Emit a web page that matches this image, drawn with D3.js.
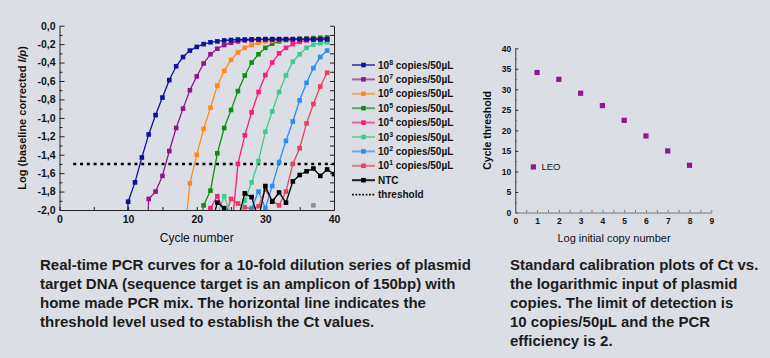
<!DOCTYPE html>
<html>
<head>
<meta charset="utf-8">
<script src="https://cdn.jsdelivr.net/npm/d3@7"></script>
<style>
  body { margin: 0; background: #dbdfe5; }
  svg { display: block; font-family: Arial, "Liberation Sans", sans-serif; }
</style>
</head>
<body>
<div id="chart"></div>
<script>
// ---- data: amplification curves (log baseline corrected I/p per cycle) ----
const exponents = ["8", "7", "6", "5", "4", "3", "2", "1"];
const curveColors = ["#10109e", "#8a1a8a", "#ff8a1c", "#148c14", "#ff1a82", "#3dcc8c", "#2a8cf5", "#e8405a"];
const curveStart = [9, 12, 18, 20, 21, 22, 26, 24];   // cycle of first value in each list

const copies1e8 = [-3.5, -1.91, -1.70, -1.43, -1.18, -0.97, -0.78, -0.59, -0.44, -0.34, -0.27, -0.23, -0.20, -0.18, -0.17, -0.16,
  -0.155, -0.15, -0.15, -0.148, -0.146, -0.145, -0.145, -0.145, -0.145, -0.145, -0.145, -0.145, -0.145, -0.145, -0.145];
const copies1e7 = [-3.5, -1.88, -1.80, -1.63, -1.36, -1.11, -0.90, -0.70, -0.55, -0.41, -0.31, -0.25, -0.21, -0.185, -0.17, -0.16,
  -0.155, -0.152, -0.15, -0.15, -0.15, -0.15, -0.15, -0.15, -0.15, -0.15, -0.15, -0.15];
const copies1e6 = [-2.45, -1.71, -1.40, -1.12, -0.89, -0.65, -0.49, -0.37, -0.29, -0.24, -0.21, -0.185, -0.17, -0.162, -0.156,
  -0.152, -0.148, -0.146, -0.145, -0.145, -0.145, -0.145];
const copies1e5 = [-2.4, -1.95, -1.79, -1.385, -1.11, -0.915, -0.71, -0.54, -0.40, -0.31, -0.24, -0.195, -0.17, -0.155, -0.148,
  -0.142, -0.138, -0.134, -0.13, -0.127];
const copies1e4 = [-2.3, -1.98, -1.85, -2.02, -2.3, -1.50, -1.19, -0.94, -0.72, -0.535, -0.40, -0.30, -0.24, -0.20, -0.175,
  -0.16, -0.152, -0.148, -0.145];
const copies1e3 = [-2.3, -2.05, -1.85, -2.05, -2.1, -1.90, -1.70, -1.47, -1.15, -0.93, -0.72, -0.54, -0.39, -0.31, -0.24,
  -0.205, -0.19, -0.18];
const copies1e2 = [-2.3, -2.1, -1.98, -1.80, -1.98, -1.74, -1.48, -1.25, -1.04, -0.81, -0.62, -0.46, -0.34, -0.27];
const copies1e1 = [-2.1, -1.88, -1.93, -1.97, -1.99, -1.96, -1.78, -1.90, -1.95, -1.80, -1.50, -1.33, -1.06, -0.85, -0.66, -0.51];
const curveValues = [copies1e8, copies1e7, copies1e6, copies1e5, copies1e4, copies1e3, copies1e2, copies1e1];

const ntcStart = 22;
const ntcValues = [-2.2, -1.92, -1.98, -2.2, -2.1, -1.82, -1.86, -2.1, -1.74, -1.91, -1.81, -1.92, -1.69, -1.62, -1.58, -1.55,
  -1.63, -1.56, -1.61];
const strayCycle = [37];
const strayValue = [-1.95];
const threshold = -1.5;
const thresholdFrom = 2;

// ---- data: calibration plot ----
const logCopies = [1, 2, 3, 4, 5, 6, 7, 8];
const cycleThreshold = [34.1, 32.45, 29.05, 26.05, 22.45, 18.65, 15.0, 11.5];

const captionLeft = [
  "Real-time PCR curves for a 10-fold dilution series of plasmid",
  "target DNA (sequence target is an amplicon of 150bp) with",
  "home made PCR mix. The horizontal line indicates the",
  "threshold level used to establish the Ct values."
];
const captionRight = [
  "Standard calibration plots of Ct vs.",
  "the logarithmic input of plasmid",
  "copies. The limit of detection is",
  "10 copies/50\u00b5L and the PCR",
  "efficiency is 2."
];

const svg = d3.select("#chart").append("svg")
  .attr("width", 770)
  .attr("height", 358);

// ================= left chart =================
const x = d3.scaleLinear().domain([0, 40]).range([59.5, 334]);
const y = d3.scaleLinear().domain([-2, 0]).range([210, 25.7]);
const comma = d => d3.format(".1f")(d).replace(".", ",").replace("\u2212", "-");

svg.append("defs").append("clipPath").attr("id", "plotclip")
  .append("rect").attr("x", x(0)).attr("y", 0).attr("width", x(40) - x(0)).attr("height", y(-2));

// left axis, ticks inside
svg.append("g")
  .attr("transform", `translate(${x(0)},0)`)
  .call(d3.axisLeft(y).tickValues(d3.range(-1.9, 0, 0.2)).tickSize(-3).tickSizeOuter(0).tickFormat(""))
  .call(g => g.select(".domain").remove());
const yAx = svg.append("g")
  .attr("transform", `translate(${x(0)},0)`)
  .call(d3.axisLeft(y).tickValues(d3.range(-2, 0.01, 0.2)).tickSize(-5).tickSizeOuter(0).tickPadding(4).tickFormat(comma));
yAx.selectAll("text").style("font-size", "10.5px").style("font-weight", "bold").attr("fill", "#111");

// right axis, ticks pointing left
svg.append("g")
  .attr("transform", `translate(${x(40)},0)`)
  .call(d3.axisRight(y).tickValues(d3.range(-2, 0.01, 0.1)).tickSize(-4).tickSizeOuter(0).tickFormat(""));

// bottom axis
const xAx = svg.append("g")
  .attr("transform", `translate(0,${y(-2)})`)
  .call(d3.axisBottom(x).tickValues(d3.range(0, 41, 5)).tickSize(-3).tickSizeOuter(0).tickPadding(6)
    .tickFormat(d => d % 10 === 0 ? d : ""));
xAx.selectAll("text").style("font-size", "10.5px").style("font-weight", "bold").attr("fill", "#111");
svg.selectAll(".domain, .tick line").attr("stroke", "#222");

// threshold
svg.append("line")
  .attr("x1", x(thresholdFrom)).attr("x2", x(40))
  .attr("y1", y(threshold)).attr("y2", y(threshold))
  .attr("stroke", "#000").attr("stroke-width", 2.4).attr("stroke-dasharray", "3,3.8");

const plot = svg.append("g").attr("clip-path", "url(#plotclip)");
const line = d3.line().x(d => x(d[0])).y(d => y(d[1]));
const ms = 4.6;

function drawCurve(points, color) {
  plot.append("path")
    .attr("d", line(points))
    .attr("fill", "none")
    .attr("stroke", color)
    .attr("stroke-width", 1.3);
  plot.selectAll(null)
    .data(points)
    .join("rect")
      .attr("x", d => x(d[0]) - ms / 2)
      .attr("y", d => y(d[1]) - ms / 2)
      .attr("width", ms)
      .attr("height", ms)
      .attr("fill", color);
}

// draw low-copy curves first so high-copy curves sit on top
for (let i = curveValues.length - 1; i >= 0; i--) {
  drawCurve(curveValues[i].map((v, k) => [curveStart[i] + k, v]), curveColors[i]);
}
drawCurve(ntcValues.map((v, k) => [ntcStart + k, v]), "#000");
plot.selectAll(null)
  .data(strayCycle)
  .join("rect")
    .attr("x", (d) => x(d) - ms / 2)
    .attr("y", (d, i) => y(strayValue[i]) - ms / 2)
    .attr("width", ms).attr("height", ms)
    .attr("fill", "#8f8f8f");

// axis titles
svg.append("text")
  .attr("transform", `translate(25.5,${(y(0) + y(-2)) / 2}) rotate(-90)`)
  .attr("text-anchor", "middle")
  .style("font-size", "11px").style("font-weight", "bold").attr("fill", "#111")
  .text("Log (baseline corrected ")
  .append("tspan").style("font-style", "italic").text("I/p")
  .select(function () { return this.parentNode; })
  .append("tspan").text(")");

svg.append("text")
  .attr("x", (x(0) + x(40)) / 2).attr("y", 242)
  .attr("text-anchor", "middle")
  .style("font-size", "12px").attr("fill", "#111")
  .text("Cycle number");

// legend
const legendY = d3.range(10).map(i => 65 + i * 14.4);
const legend = svg.append("g");
exponents.forEach((e, i) => {
  const g = legend.append("g").attr("transform", `translate(0,${legendY[i]})`);
  g.append("line").attr("x1", 352).attr("x2", 375).attr("stroke", curveColors[i]).attr("stroke-width", 2).attr("opacity", 0.65);
  g.append("rect").attr("x", 363.5 - 2.3).attr("y", -2.3).attr("width", 4.6).attr("height", 4.6).attr("fill", curveColors[i]);
  const t = g.append("text").attr("x", 378).attr("y", 3.6)
    .style("font-size", "10px").style("font-weight", "bold").attr("fill", "#111");
  t.append("tspan").text("10");
  t.append("tspan").attr("dy", -4).style("font-size", "7px").text(e);
  t.append("tspan").attr("dy", 4).text(" copies/50\u00b5L");
});
{
  const g = legend.append("g").attr("transform", `translate(0,${legendY[8]})`);
  g.append("line").attr("x1", 352).attr("x2", 375).attr("stroke", "#222").attr("stroke-width", 2);
  g.append("rect").attr("x", 363.5 - 2.3).attr("y", -2.3).attr("width", 4.6).attr("height", 4.6).attr("fill", "#000");
  g.append("text").attr("x", 378).attr("y", 3.6)
    .style("font-size", "10px").style("font-weight", "bold").attr("fill", "#111").text("NTC");
}
{
  const g = legend.append("g").attr("transform", `translate(0,${legendY[9]})`);
  g.append("line").attr("x1", 352).attr("x2", 375).attr("stroke", "#000").attr("stroke-width", 1.8).attr("stroke-dasharray", "1.8,1.6");
  g.append("text").attr("x", 378).attr("y", 3.6)
    .style("font-size", "10px").style("font-weight", "bold").attr("fill", "#111").text("threshold");
}

// ================= right chart =================
const x2 = d3.scaleLinear().domain([0, 9]).range([515.3, 711.3]);
const y2 = d3.scaleLinear().domain([0, 40]).range([212.5, 48.3]);

svg.append("g")
  .attr("transform", `translate(${x2(0)},0)`)
  .call(d3.axisLeft(y2).tickValues(d3.range(2.5, 40, 5)).tickSize(-2).tickSizeOuter(0).tickFormat(""))
  .call(g => g.select(".domain").remove())
  .selectAll("line").attr("stroke", "#999");
const y2Ax = svg.append("g")
  .attr("transform", `translate(${x2(0)},0)`)
  .call(d3.axisLeft(y2).tickValues(d3.range(0, 41, 5)).tickSize(-3).tickSizeOuter(0).tickPadding(4));
y2Ax.selectAll("text").style("font-size", "8.5px").style("font-weight", "bold").attr("fill", "#111");
y2Ax.selectAll(".domain, line").attr("stroke", "#333");

const x2Ax = svg.append("g")
  .attr("transform", `translate(0,${y2(0)})`)
  .call(d3.axisBottom(x2).tickValues(d3.range(0, 9.01, 0.5)).tickSize(-2.5).tickSizeOuter(0).tickPadding(5)
    .tickFormat(d => Number.isInteger(d) ? d : ""));
x2Ax.selectAll("text").style("font-size", "8.5px").style("font-weight", "bold").attr("fill", "#111");
x2Ax.selectAll(".domain, line").attr("stroke", "#777");

svg.selectAll(null)
  .data(logCopies)
  .join("rect")
    .attr("x", d => x2(d) - 2.6)
    .attr("y", (d, i) => y2(cycleThreshold[i]) - 2.6)
    .attr("width", 5.2).attr("height", 5.2)
    .attr("fill", "#8c1a8c");

// legend
svg.append("rect").attr("x", x2(0.83) - 2.6).attr("y", y2(11.1) - 2.6).attr("width", 5.2).attr("height", 5.2).attr("fill", "#8c1a8c");
svg.append("text").attr("x", 541.5).attr("y", y2(11.1) + 3.5)
  .style("font-size", "9.5px").attr("fill", "#111").text("LEO");

svg.append("text")
  .attr("transform", `translate(490.5,${(y2(0) + y2(40)) / 2}) rotate(-90)`)
  .attr("text-anchor", "middle")
  .style("font-size", "10.5px").style("font-weight", "bold").attr("fill", "#111")
  .text("Cycle threshold");

svg.append("text")
  .attr("x", 614).attr("y", 242)
  .attr("text-anchor", "middle")
  .style("font-size", "11px").attr("fill", "#111")
  .text("Log initial copy number");

// ================= captions =================
function caption(lines, x0) {
  svg.append("g").selectAll("text")
    .data(lines)
    .join("text")
      .attr("x", x0)
      .attr("y", (d, i) => 269.5 + i * 19)
      .style("font-size", "15px").style("font-weight", "bold").attr("fill", "#1c1c1c")
      .text(d => d);
}
caption(captionLeft, 40);
caption(captionRight, 510);
</script>
</body>
</html>
